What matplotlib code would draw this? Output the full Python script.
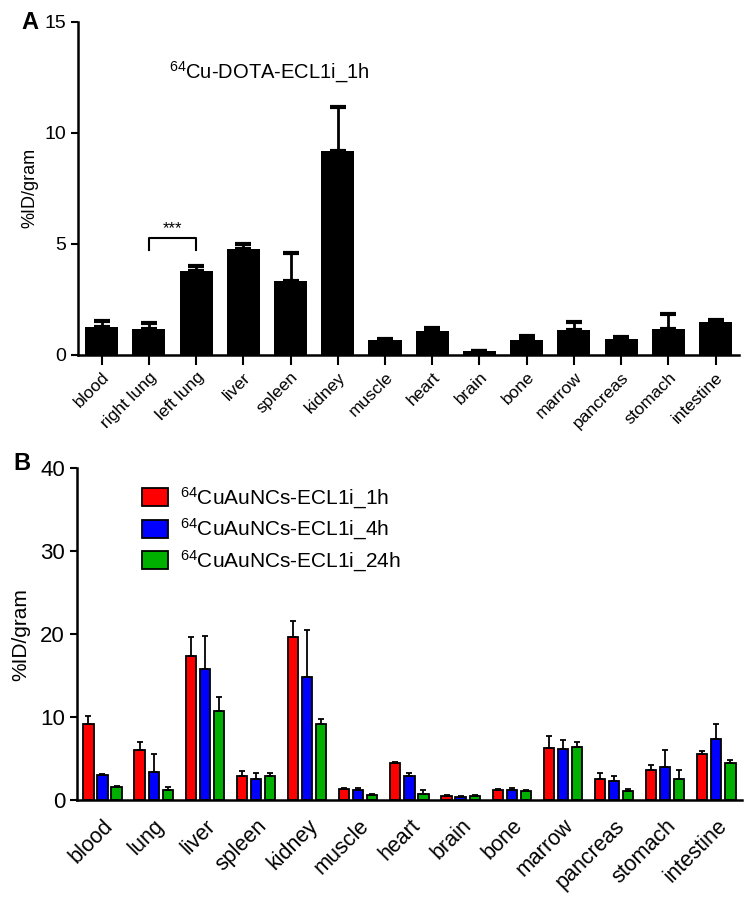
import numpy as np
import matplotlib
matplotlib.use('Agg')
import matplotlib.pyplot as plt

plt.rcParams['font.family'] = ['Liberation Sans', 'DejaVu Sans']
plt.rcParams['mathtext.default'] = 'regular'

# panel A data
organs_a = ['blood', 'right lung', 'left lung', 'liver', 'spleen', 'kidney', 'muscle',
            'heart', 'brain', 'bone', 'marrow', 'pancreas', 'stomach', 'intestine']
mean_a = [1.27, 1.16, 3.80, 4.79, 3.33, 9.20, 0.66, 1.10, 0.16, 0.66, 1.14, 0.72, 1.18, 1.47]
err_a = [0.26, 0.29, 0.22, 0.20, 1.25, 1.96, 0.04, 0.10, 0.04, 0.18, 0.36, 0.07, 0.65, 0.09]

# panel B data
organs_b = ['blood', 'lung', 'liver', 'spleen', 'kidney', 'muscle', 'heart', 'brain',
            'bone', 'marrow', 'pancreas', 'stomach', 'intestine']
mean_1h = [9.2, 6.0, 17.4, 2.9, 19.6, 1.37, 4.46, 0.48, 1.20, 6.27, 2.57, 3.62, 5.55]
err_1h = [0.9, 0.96, 2.2, 0.6, 1.95, 0.08, 0.12, 0.12, 0.17, 1.41, 0.65, 0.60, 0.40]
mean_4h = [3.0, 3.42, 15.76, 2.5, 14.88, 1.2, 2.9, 0.36, 1.25, 6.11, 2.33, 3.94, 7.32]
err_4h = [0.2, 2.08, 4.04, 0.8, 5.67, 0.25, 0.4, 0.08, 0.24, 1.13, 0.57, 2.09, 1.81]
mean_24h = [1.57, 1.17, 10.78, 2.85, 9.17, 0.64, 0.72, 0.52, 1.05, 6.35, 1.13, 2.49, 4.50]
err_24h = [0.16, 0.43, 1.68, 0.45, 0.63, 0.06, 0.45, 0.12, 0.12, 0.61, 0.24, 1.09, 0.37]
series_labels = ['$^{64}$CuAuNCs-ECL1i_1h', '$^{64}$CuAuNCs-ECL1i_4h', '$^{64}$CuAuNCs-ECL1i_24h']
colors = ['#ff0000', '#0000ff', '#00b000']

fig = plt.figure(figsize=(7.54, 9.01), dpi=100)

# ---- panel A ----
ax1 = fig.add_axes([0.1034, 0.606, 0.877, 0.370])
x = np.arange(len(organs_a))
ax1.bar(x, mean_a, width=0.7, color='black')
ax1.errorbar(x, mean_a, yerr=[np.zeros(len(err_a)), err_a], fmt='none',
             ecolor='black', elinewidth=2, capsize=6, capthick=3)
ax1.set_xlim(-0.5, 13.5)
ax1.set_ylim(0, 15)
ax1.set_yticks([0, 5, 10, 15])
ax1.set_xticks(x)
ax1.set_xticklabels(organs_a, rotation=45, ha='right', rotation_mode='anchor', fontsize=12.5)
ax1.set_ylabel('%ID/gram', fontsize=13, labelpad=4)
ax1.tick_params(axis='y', labelsize=14, width=1.5, length=5)
ax1.tick_params(axis='x', width=1.5, length=7)
for s in ['top', 'right']:
    ax1.spines[s].set_visible(False)
for s in ['left', 'bottom']:
    ax1.spines[s].set_linewidth(1.8)
# significance bracket
ax1.plot([1, 1, 2, 2], [4.73, 5.25, 5.25, 4.73], color='black', lw=1.5)
ax1.text(1.5, 5.35, '***', ha='center', va='bottom', fontsize=12)
ax1.text(1.42, 12.7, '$^{64}$Cu-DOTA-ECL1i_1h', ha='left', va='center', fontsize=14.5)
fig.text(0.028, 0.975, 'A', fontsize=17, fontweight='bold', va='center')

# ---- panel B ----
ax2 = fig.add_axes([0.102, 0.112, 0.882, 0.3685])
xb = np.arange(len(organs_b))
w = 0.2
off = 0.275
for i, (m, e) in enumerate([(mean_1h, err_1h), (mean_4h, err_4h), (mean_24h, err_24h)]):
    pos = xb + (i - 1) * off
    ax2.bar(pos, m, width=w, color=colors[i], edgecolor='black', linewidth=1.3,
            label=series_labels[i])
    ax2.errorbar(pos, m, yerr=[np.zeros(len(e)), e], fmt='none', ecolor='black',
                 elinewidth=1.3, capsize=2, capthick=1.3)
ax2.set_xlim(-0.5, 12.5)
ax2.set_ylim(0, 40)
ax2.set_yticks([0, 10, 20, 30, 40])
ax2.set_xticks(xb)
ax2.set_xticklabels(organs_b, rotation=45, ha='right', rotation_mode='anchor', fontsize=15.5)
ax2.set_ylabel('%ID/gram', fontsize=15, labelpad=7)
ax2.tick_params(axis='y', labelsize=16, width=1.5, length=5)
ax2.tick_params(axis='x', length=0, pad=11)
for s in ['top', 'right']:
    ax2.spines[s].set_visible(False)
for s in ['left', 'bottom']:
    ax2.spines[s].set_linewidth(1.8)
ax2.legend(loc='upper left', bbox_to_anchor=(0.07, 1.005), frameon=False, fontsize=15,
           handlelength=1.25, handleheight=0.95, handletextpad=0.55, labelspacing=0.3)
fig.text(0.018, 0.486, 'B', fontsize=17, fontweight='bold', va='center')

fig.savefig('out.png', dpi=100)
